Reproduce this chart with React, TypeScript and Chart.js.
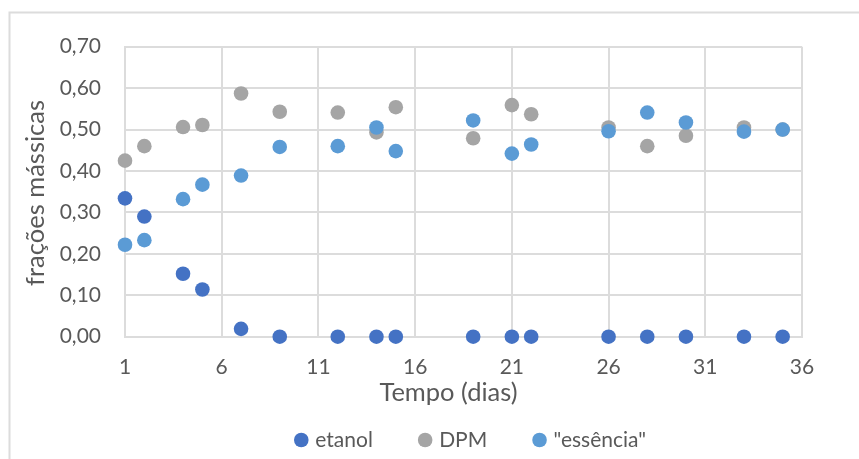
import { useEffect, useRef } from "react";
import { Chart, registerables } from "chart.js";

Chart.register(...registerables);

// Sampling days (x) and mass fractions for each component
const days = [1, 2, 4, 5, 7, 9, 12, 14, 15, 19, 21, 22, 26, 28, 30, 33, 35];
const etanol = [0.334, 0.29, 0.152, 0.114, 0.019, 0, 0, 0, 0, 0, 0, 0, 0, 0, 0, 0, 0];
const dpm = [0.425, 0.46, 0.506, 0.511, 0.587, 0.543, 0.541, 0.493, 0.554, 0.479, 0.559, 0.537, 0.505, 0.46, 0.485, 0.505, 0.5];
const essencia = [0.222, 0.233, 0.332, 0.367, 0.389, 0.458, 0.46, 0.505, 0.448, 0.522, 0.442, 0.464, 0.496, 0.541, 0.517, 0.495, 0.5];

const seriesNames = ["etanol", "DPM", "\"essência\""];
const seriesColors = ["#4472C4", "#A5A5A5", "#5B9BD5"];

const xTicks = [1, 6, 11, 16, 21, 26, 31, 36];
const yTicks = [0, 0.1, 0.2, 0.3, 0.4, 0.5, 0.6, 0.7];

const xTitle = "Tempo (dias)";
const yTitle = "frações mássicas";

const FONT = "Lato";
const TEXT = "#595959";
const GRID = "#DCDCDC";

const W = 859;
const H = 459;

const toPoints = (ys: number[]) => days.map((d, i) => ({ x: d, y: ys[i] }));
const fmt = (v: number) => v.toFixed(2).replace(".", ",");

// Outer frame, axis titles and the bottom legend
const decorations = {
  id: "decorations",
  beforeDraw(chart: Chart) {
    const ctx = chart.ctx;
    ctx.save();
    ctx.strokeStyle = GRID;
    ctx.lineWidth = 2;
    ctx.beginPath();
    ctx.moveTo(9.5, H + 5);
    ctx.lineTo(9.5, 12.5);
    ctx.lineTo(W + 5, 12.5);
    ctx.stroke();
    ctx.restore();
  },
  afterDraw(chart: Chart) {
    const ctx = chart.ctx;
    ctx.save();
    ctx.fillStyle = TEXT;

    // x axis title
    ctx.font = `25.5px ${FONT}`;
    ctx.textAlign = "center";
    ctx.textBaseline = "middle";
    ctx.fillText(xTitle, 448.5, 393);

    // y axis title
    ctx.save();
    ctx.translate(36, 193);
    ctx.rotate(-Math.PI / 2);
    ctx.fillText(yTitle, 0, 0);
    ctx.restore();

    // legend
    ctx.font = `21px ${FONT}`;
    ctx.textAlign = "left";
    const r = 7.3;
    const textOffset = 14;
    const spacing = 45;
    const items = chart.data.datasets.map((ds: any) => ({
      label: ds.label as string,
      color: ds.backgroundColor as string,
      w: r + textOffset + ctx.measureText(ds.label).width,
    }));
    const total = items.reduce((s, it) => s + it.w, 0) + spacing * (items.length - 1);
    let x = 470 - total / 2;
    const cy = 440;
    for (const it of items) {
      const cx = x + r;
      ctx.fillStyle = it.color;
      ctx.beginPath();
      ctx.arc(cx, cy, r, 0, Math.PI * 2);
      ctx.fill();
      ctx.fillStyle = TEXT;
      ctx.fillText(it.label, cx + textOffset, cy);
      x += it.w + spacing;
    }
    ctx.restore();
  },
};

export default function App() {
  const canvasRef = useRef<HTMLCanvasElement | null>(null);

  useEffect(() => {
    document.body.style.margin = "0";
    const canvas = canvasRef.current;
    if (!canvas) return;
    const datasets = [etanol, dpm, essencia].map((ys, i) => ({
      label: seriesNames[i],
      data: toPoints(ys),
      backgroundColor: seriesColors[i],
      borderColor: seriesColors[i],
      borderWidth: 0,
      pointRadius: 7.3,
      pointHoverRadius: 7.3,
      clip: false as const,
      // later series are painted over earlier ones
      order: 2 - i,
    }));
    const chart = new Chart(canvas, {
      type: "scatter",
      data: { datasets },
      options: {
        animation: false,
        responsive: false,
        devicePixelRatio: 1,
        events: [],
        layout: { padding: { top: 46.7, right: 57, left: 0, bottom: 0 } },
        plugins: {
          legend: { display: false },
          tooltip: { enabled: false },
        },
        scales: {
          x: {
            type: "linear",
            min: 1,
            max: 36,
            afterBuildTicks: (s: any) => {
              s.ticks = xTicks.map((v) => ({ value: v }));
            },
            afterFit: (s: any) => {
              s.height = 122.3;
            },
            grid: { color: GRID, lineWidth: 2, drawTicks: false },
            border: { color: GRID, width: 2 },
            ticks: {
              color: TEXT,
              font: { family: FONT, size: 21 },
              padding: 18,
              maxRotation: 0,
            },
          },
          y: {
            min: 0,
            max: 0.7,
            afterBuildTicks: (s: any) => {
              s.ticks = yTicks.map((v) => ({ value: v }));
            },
            afterFit: (s: any) => {
              s.width = 125;
            },
            grid: { color: GRID, lineWidth: 2, drawTicks: false },
            border: { color: GRID, width: 2 },
            ticks: {
              color: TEXT,
              font: { family: FONT, size: 21 },
              padding: 24,
              callback: (v: any) => fmt(Number(v)),
            },
          },
        },
      },
      plugins: [decorations],
    });
    return () => chart.destroy();
  }, []);

  return (
    <div style={{ position: "fixed", left: 0, top: 0, width: W, height: H, background: "#fff" }}>
      <canvas ref={canvasRef} width={W} height={H} style={{ display: "block", width: W, height: H }} />
    </div>
  );
}
